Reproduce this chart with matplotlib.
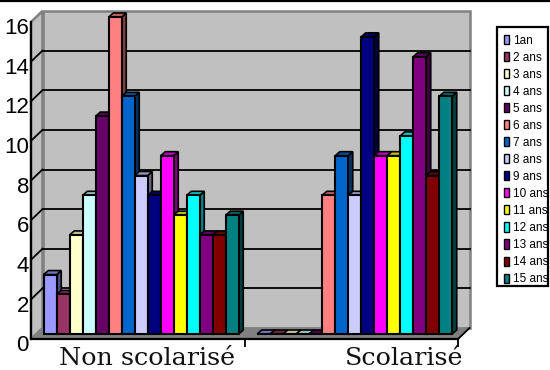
import matplotlib
matplotlib.use('Agg')
import matplotlib.pyplot as plt
from matplotlib.patches import Polygon, Rectangle, Patch
from matplotlib.transforms import Affine2D, ScaledTranslation
from matplotlib.colors import to_rgb

groups = ['Non scolarisé', 'Scolarisé']
ages = ['1an', '2 ans', '3 ans', '4 ans', '5 ans', '6 ans', '7 ans', '8 ans',
        '9 ans', '10 ans', '11 ans', '12 ans', '13 ans', '14 ans', '15 ans']
non_scolarise = [3, 2, 5, 7, 11, 16, 12, 8, 7, 9, 6, 7, 5, 5, 6]
scolarise = [0, 0, 0, 0, 0, 7, 9, 7, 15, 9, 9, 10, 14, 8, 12]
colors = ['#9999ff', '#993366', '#ffffcc', '#ccffff', '#660066', '#ff8080',
          '#0066cc', '#ccccff', '#000080', '#ff00ff', '#ffff00', '#00ffff',
          '#800080', '#800000', '#008080']
yticks = list(range(0, 17, 2))

W, H = 550, 370
fig = plt.figure(figsize=(W / 100, H / 100), dpi=100)
ax = fig.add_axes([31 / W, 1 - 339 / H, 427 / W, 317 / H])
ax.set_xlim(-0.5, 1.5)
ax.set_ylim(0, 16)
ax.patch.set_visible(False)


def shifted(dx, dy):
    # screen offset in pixels, dy goes up
    return ax.transData + Affine2D().translate(dx, dy)


def darker(c, f):
    return tuple(v * f for v in to_rgb(c))


# walls and floor
back = shifted(11.5, 11)
ax.add_patch(Rectangle((-0.5, 0), 2, 16, transform=back, fc='#c0c0c0', ec='#808080', lw=1.8, zorder=1, clip_on=False))
(lx, by), (rx, ty) = ax.transData.transform([(-0.5, 0), (1.5, 16)])
ax.add_patch(Polygon([(lx, by), (lx + 11.5, by + 11), (lx + 11.5, ty + 11), (lx, ty)], closed=True,
                     transform=None, fc='#c0c0c0', ec='#808080', lw=1.8, zorder=1, clip_on=False))
ax.add_patch(Polygon([(lx, by), (rx, by), (rx + 11.5, by + 11), (lx + 11.5, by + 11)], closed=True,
                     transform=None, fc='#808080', ec='#808080', lw=1, zorder=1.5, clip_on=False))
ax.plot([rx, rx + 11.5], [by, by + 11], transform=None, color='black', lw=1.3, zorder=2, clip_on=False)

# grid on the back wall and the slanted part on the left wall
for v in yticks[1:-1]:
    x0, y0 = ax.transData.transform((-0.5, v))
    ax.plot([x0, x0 + 11.5], [y0, y0 + 11], transform=None, color='black', lw=1.3, zorder=2, clip_on=False)
    ax.plot([-0.5, 1.5], [v, v], transform=back, color='black', lw=1.3, zorder=2, clip_on=False)

# bars, left to right so each covers the side of the one before
bar_w = 13 / 213.5
front = shifted(3.5, 5)
dx_px, dy_px = 4.5, 4
n = len(ages)
order = 3
for g, vals in enumerate([non_scolarise, scolarise]):
    for i, v in enumerate(vals):
        x = g + (i - n / 2) * bar_w
        x0, y0 = front.transform((x, 0))
        x1, y1 = front.transform((x + bar_w, v))
        top = Polygon([(x0, y1), (x1, y1), (x1 + dx_px, y1 + dy_px), (x0 + dx_px, y1 + dy_px)], closed=True,
                      transform=None, fc=darker(colors[i], 0.75), ec='black', lw=1.2, zorder=order, clip_on=False)
        side = Polygon([(x1, y0), (x1 + dx_px, y0 + dy_px), (x1 + dx_px, y1 + dy_px), (x1, y1)], closed=True,
                       transform=None, fc=darker(colors[i], 0.5), ec='black', lw=1.2, zorder=order, clip_on=False)
        ax.add_patch(side)
        ax.add_patch(top)
        ax.bar(x, v, width=bar_w, align='edge', color=colors[i], edgecolor='black', linewidth=1.5,
               transform=front, zorder=order + 0.5, clip_on=False)
        order += 1

ax.set_xlim(-0.5, 1.5)
ax.set_ylim(0, 16)

for s in ['top', 'right']:
    ax.spines[s].set_visible(False)
for s in ['left', 'bottom']:
    ax.spines[s].set_linewidth(1.6)
    ax.spines[s].set_zorder(100)

ax.set_yticks(yticks)
ax.set_yticklabels([str(v) for v in yticks], family='Liberation Sans', fontsize=16)
ax.tick_params(axis='y', length=0, pad=1.5)
for lab in ax.get_yticklabels():
    lab.set_transform(lab.get_transform() + ScaledTranslation(0, -3 / 72, fig.dpi_scale_trans))
ax.set_xticks([0.5, 1.5])
ax.set_xticklabels([])
ax.tick_params(axis='x', length=6, width=1.3, color='black')
for g, name in zip([0.0457, 1.247], groups):
    ax.annotate(name, (g, 0), xytext=(0, -19), textcoords='offset points', ha='center', va='baseline',
                family='DejaVu Serif', fontsize=18.3, color='#111111', annotation_clip=False)

# legend box
fig.add_artist(Rectangle((497 / W, 1 - 286 / H), 51 / W, 259 / H, transform=fig.transFigure, fc='white', ec='black', lw=1.6))
handles = [Patch(fc=c, ec='black', lw=1.0) for c in colors]
fig.legend(handles, ages, loc='upper left', bbox_to_anchor=(498 / W, 1 - 29 / H), frameon=False,
           prop={'family': 'Liberation Sans', 'size': 8.5}, labelspacing=0.425, handlelength=0.42, handleheight=0.8,
           handletextpad=0.34, borderpad=0.2, borderaxespad=0.3)

# black line along the top of the picture
fig.add_artist(plt.Line2D([0, 1], [1 - 0.5 / H, 1 - 0.5 / H], color='black', lw=1.6))

fig.savefig('out.png', dpi=100)
